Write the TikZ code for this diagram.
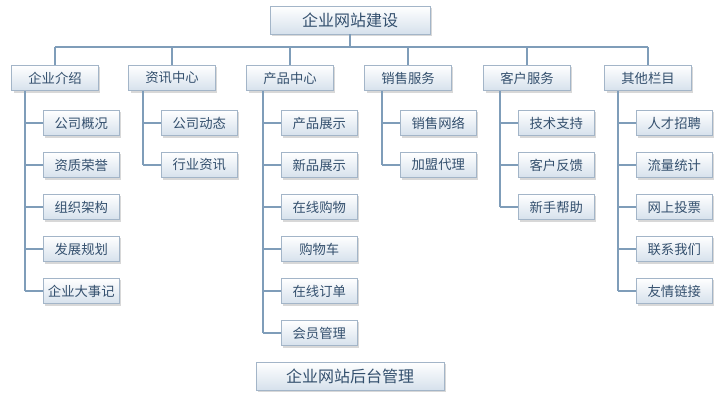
\documentclass[tikz,border=0pt]{standalone}
\usepackage{fontspec}
\setmainfont{Noto Sans CJK SC}
\usetikzlibrary{positioning, shadows}
\definecolor{linec}{HTML}{7F9DB9}
\definecolor{boxline}{HTML}{A3B5C8}
\definecolor{boxtxt}{HTML}{34506E}
\definecolor{boxbot}{HTML}{D6E1EC}

\begin{document}
\begin{tikzpicture}[x=0.75pt, y=-0.75pt, font=\fontsize{10}{12}\selectfont]
    \tikzset{
        box/.style = {rectangle, draw=boxline, top color=white, bottom color=boxbot, text=boxtxt,
                      minimum width=65pt, minimum height=19pt, inner sep=1pt,
                      drop shadow={shadow xshift=1.5pt, shadow yshift=-1.5pt, fill=gray!60}},
        bigbox/.style = {box, minimum height=21pt, font=\fontsize{12}{14}\selectfont},
        line/.style = {draw=linec, line width=1.6pt}
    }
    \useasboundingbox (0,0) rectangle (717,401);

    % 标题
    \node[bigbox, minimum width=120pt] (top) at (350,20) {企业网站建设};
    \node[bigbox, minimum width=141pt] (bottom) at (350,376) {企业网站后台管理};

    % 栏目
    \node[box] (c1) at (55,78) {企业介绍};
    \node[box] (c2) at (172,78) {资讯中心};
    \node[box] (c3) at (290,78) {产品中心};
    \node[box] (c4) at (408,78) {销售服务};
    \node[box] (c5) at (527,78) {客户服务};
    \node[box] (c6) at (648,78) {其他栏目};

    \coordinate (hl) at (55,47);
    \coordinate (hr) at (648,47);
    \path[line] (hl) -- (hr);
    \foreach \c in {1,...,6}
        \path[line] (c\c.north |- hl) -- (c\c.north);
    \path[line] (top.south) -- (top.south |- hl);

    % 子栏目
    \foreach \c/\sx/\items in {
        1/25/{公司概况,资质荣誉,组织架构,发展规划,企业大事记},
        2/143/{公司动态,行业资讯},
        3/263/{产品展示,新品展示,在线购物,购物车,在线订单,会员管理},
        4/382/{销售网络,加盟代理},
        5/500/{技术支持,客户反馈,新手帮助},
        6/618/{人才招聘,流量统计,网上投票,联系我们,友情链接}} {
        \foreach \t [count=\i] in \items {
            \node[box, minimum width=57pt, anchor=west] (s\c-\i) at (\sx+18, 123+42*\i-42) {\t};
            \path[line] (\sx, 123+42*\i-42) -- (s\c-\i.west);
            \xdef\last{\i}
        }
        \path[line] (\sx, 91) -- (\sx, 123+42*\last-42);
    }
\end{tikzpicture}
\end{document}
